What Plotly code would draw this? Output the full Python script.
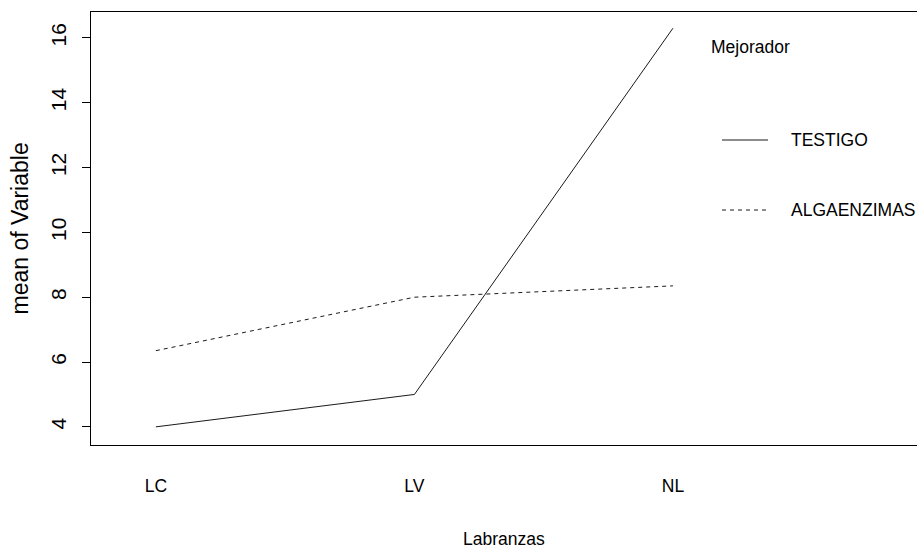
import plotly.graph_objects as go

# Interaction plot: mean response by tillage (Labranzas) for each improver (Mejorador)
labranzas = ["LC", "LV", "NL"]
testigo = [4.0, 5.0, 16.3]
algaenzimas = [6.35, 8.0, 8.35]
y_ticks = [4, 6, 8, 10, 12, 14, 16]

narrow = "Liberation Sans, Arial, sans-serif"
regular = "Liberation Sans, Arial, sans-serif"
h_size = 17.5

fig = go.Figure()
fig.add_trace(go.Scatter(x=labranzas, y=testigo, mode="lines", name="TESTIGO",
                         line=dict(color="#1a1a1a", width=1)))
fig.add_trace(go.Scatter(x=labranzas, y=algaenzimas, mode="lines", name="ALGAENZIMAS",
                         line=dict(color="#1a1a1a", width=1, dash="4px,4px")))

fig.update_layout(
    width=917, height=548,
    margin=dict(l=91, r=0, t=12, b=103),
    paper_bgcolor="white", plot_bgcolor="white",
    showlegend=False,
    xaxis=dict(
        type="category", range=[-0.251, 2.944],
        showgrid=False, zeroline=False,
        showline=True, linecolor="black", linewidth=1, mirror=True,
        ticks="", ticklabelstandoff=25,
        tickfont=dict(family=narrow, size=h_size, color="black"),
    ),
    yaxis=dict(
        range=[3.44, 16.80],
        tickvals=y_ticks, ticktext=[str(v) for v in y_ticks],
        showgrid=False, zeroline=False,
        showline=True, linecolor="black", linewidth=1, mirror=True,
        ticks="outside", ticklen=8, tickcolor="black", tickangle=-90,
        ticklabelstandoff=8,
        tickfont=dict(family=regular, size=21, color="black"),
    ),
)

# Axis titles
fig.add_annotation(text="Labranzas", xref="paper", yref="paper", x=0.5, y=0,
                   xanchor="center", yanchor="middle", yshift=-94, showarrow=False,
                   font=dict(family=narrow, size=h_size, color="black"))
fig.add_annotation(text="mean of Variable", xref="paper", yref="paper", x=0, y=0.5,
                   xanchor="center", yanchor="middle", xshift=-72, textangle=-90,
                   showarrow=False, font=dict(family=regular, size=23, color="black"))

# Legend drawn in the free space to the right of the data
def px_x(p):
    return (p - 91) / 826

def px_y(p):
    return (445 - p) / 433

fig.add_annotation(text="Mejorador", xref="paper", yref="paper", x=px_x(709), y=px_y(47),
                   xanchor="left", yanchor="middle", showarrow=False,
                   font=dict(family=narrow, size=h_size, color="black"))
for name, yy, dash in [("TESTIGO", 140, "solid"), ("ALGAENZIMAS", 210, "4px,4px")]:
    fig.add_shape(type="line", xref="paper", yref="paper",
                  x0=px_x(722), x1=px_x(768), y0=px_y(yy), y1=px_y(yy),
                  line=dict(color="#1a1a1a", width=1, dash=dash))
    fig.add_annotation(text=name, xref="paper", yref="paper", x=px_x(789), y=px_y(yy),
                       xanchor="left", yanchor="middle", showarrow=False,
                       font=dict(family=narrow, size=h_size, color="black"))

fig.write_html("out.html")
